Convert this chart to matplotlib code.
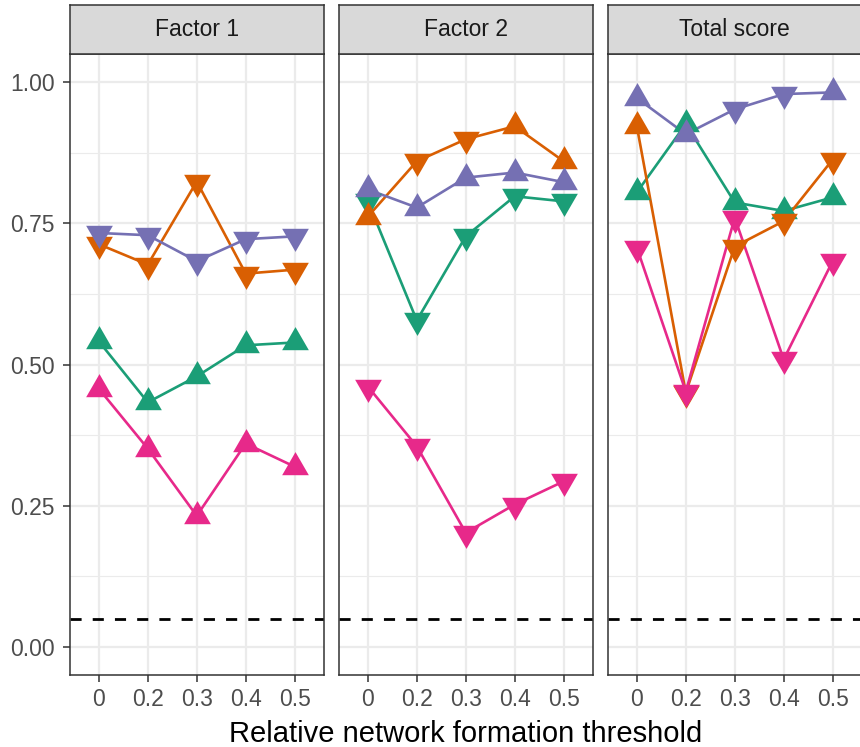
import matplotlib
matplotlib.use("Agg")
import matplotlib.pyplot as plt
import numpy as np

plt.rcParams['font.family'] = ['Liberation Sans', 'DejaVu Sans']

thresholds = ["0", "0.2", "0.3", "0.4", "0.5"]
panels = ["Factor 1", "Factor 2", "Total score"]
series_names = ["Series 1", "Series 2", "Series 3", "Series 4"]
series_colors = ["#1B9E77", "#D95F02", "#7570B3", "#E7298A"]

# values[panel][series]
f1_green = [0.541, 0.433, 0.479, 0.534, 0.539]
f1_orange = [0.713, 0.677, 0.824, 0.661, 0.668]
f1_purple = [0.733, 0.729, 0.683, 0.722, 0.727]
f1_pink = [0.457, 0.351, 0.232, 0.360, 0.319]

f2_green = [0.789, 0.578, 0.727, 0.798, 0.789]
f2_orange = [0.762, 0.860, 0.899, 0.922, 0.860]
f2_purple = [0.810, 0.778, 0.831, 0.840, 0.823]
f2_pink = [0.461, 0.355, 0.202, 0.252, 0.293]

ts_green = [0.805, 0.926, 0.787, 0.772, 0.796]
ts_orange = [0.922, 0.450, 0.709, 0.754, 0.863]
ts_purple = [0.972, 0.908, 0.952, 0.979, 0.982]
ts_pink = [0.707, 0.452, 0.760, 0.509, 0.683]

# marker direction: 1 = up triangle, 0 = down triangle
f1_green_up = [1, 1, 1, 1, 1]
f1_orange_up = [0, 0, 0, 0, 0]
f1_purple_up = [0, 0, 0, 0, 0]
f1_pink_up = [1, 1, 1, 1, 1]

f2_green_up = [0, 0, 0, 0, 0]
f2_orange_up = [1, 0, 0, 1, 1]
f2_purple_up = [1, 1, 1, 1, 1]
f2_pink_up = [0, 0, 0, 0, 0]

ts_green_up = [1, 1, 1, 1, 1]
ts_orange_up = [1, 0, 0, 0, 0]
ts_purple_up = [1, 1, 0, 0, 1]
ts_pink_up = [0, 0, 0, 0, 0]

reference_line = 0.05

values = [
    [f1_green, f1_orange, f1_purple, f1_pink],
    [f2_green, f2_orange, f2_purple, f2_pink],
    [ts_green, ts_orange, ts_purple, ts_pink],
]
shapes = [
    [f1_green_up, f1_orange_up, f1_purple_up, f1_pink_up],
    [f2_green_up, f2_orange_up, f2_purple_up, f2_pink_up],
    [ts_green_up, ts_orange_up, ts_purple_up, ts_pink_up],
]

h = np.sqrt(3) / 2
up_tri = [(0, 2 * h / 3), (-0.5, -h / 3), (0.5, -h / 3), (0, 2 * h / 3)]
down_tri = [(x, -y) for x, y in up_tri]

W, H = 860, 747
fig = plt.figure(figsize=(W / 100, H / 100), dpi=100)

panel_left = [69.5, 338.5, 607.5]
panel_w = 254.5
panel_top = 54
panel_bot = 675
strip_top = 5

x = np.arange(len(thresholds))
ms = 22.2

for i, name in enumerate(panels):
    l = panel_left[i] / W
    ax = fig.add_axes([l, (H - panel_bot) / H, panel_w / W, (panel_bot - panel_top) / H])
    ax.set_xlim(-0.6, len(thresholds) - 1 + 0.6)
    ax.set_ylim(-0.05, 1.05)
    ax.set_yticks([0, 0.25, 0.5, 0.75, 1.0])
    ax.set_yticks([0.125, 0.375, 0.625, 0.875], minor=True)
    ax.set_xticks(x)
    ax.set_xticklabels(thresholds)
    ax.grid(True, which='major', color='#EBEBEB', lw=1.6, zorder=0)
    ax.grid(True, which='minor', axis='y', color='#EBEBEB', lw=0.8, zorder=0)
    ax.set_axisbelow(True)
    for s in ax.spines.values():
        s.set_color('#333333')
        s.set_linewidth(1.1)
    ax.tick_params(axis='both', which='major', color='#333333', width=1.1, length=5,
                   labelsize=16.5, labelcolor='#4D4D4D')
    ax.tick_params(axis='x', pad=4)
    ax.tick_params(axis='y', pad=5.5)
    ax.tick_params(which='minor', length=0)
    if i > 0:
        ax.tick_params(axis='y', labelleft=False, left=False)
    else:
        ax.set_yticklabels(["0.00", "0.25", "0.50", "0.75", "1.00"])

    ax.axhline(reference_line, color='black', lw=2.0, ls=(0, (4, 4)), zorder=1)

    for j in range(len(series_names)):
        ax.plot(x, values[i][j], color=series_colors[j], lw=1.9, zorder=2,
                solid_capstyle='butt')
    for j in range(len(series_names)):
        for k in range(len(thresholds)):
            ax.plot(x[k], values[i][j][k], ls='none',
                    marker=up_tri if shapes[i][j][k] else down_tri,
                    ms=ms, mew=0, color=series_colors[j], zorder=3 + j)

    sax = fig.add_axes([l, (H - panel_top) / H, panel_w / W, (panel_top - strip_top) / H])
    sax.set_facecolor('#D9D9D9')
    sax.set_xticks([])
    sax.set_yticks([])
    for s in sax.spines.values():
        s.set_color('#333333')
        s.set_linewidth(1.1)
    sax.text(0.5, 0.5, name, ha='center', va='center', fontsize=16.5,
             color='#1A1A1A', transform=sax.transAxes)

fig.text(466 / W, (H - 742) / H, "Relative network formation threshold",
         ha='center', va='baseline', fontsize=21, color='black')

fig.savefig("out.png", dpi=100)
